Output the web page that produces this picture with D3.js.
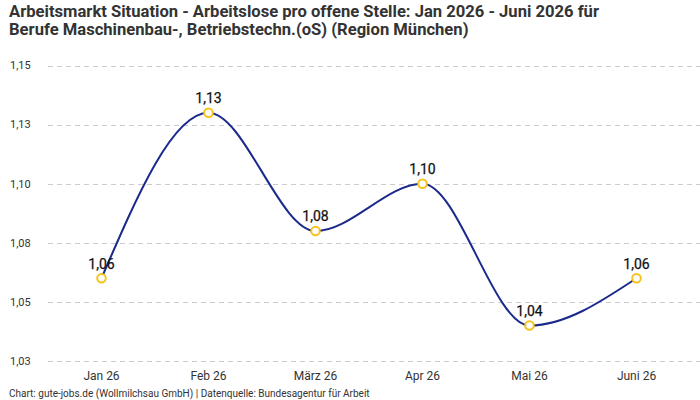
<!DOCTYPE html>
<html>
<head>
<meta charset="utf-8">
<script src="https://cdn.jsdelivr.net/npm/d3@7"></script>
<style>
  body { margin: 0; background: #fff; }
  svg { display: block; }
  .title { font-family: "Liberation Sans Narrow", "Roboto", sans-serif; font-weight: bold; font-size: 16.6px; fill: #333; }
  .tick-y { font-family: "Roboto", sans-serif; font-size: 11px; fill: #333; }
  .tick-x { font-family: "Liberation Sans Narrow", "Roboto", sans-serif; font-size: 12px; fill: #333; }
  .value-label { font-family: "Roboto", sans-serif; font-size: 14px; fill: #111; stroke: #111; stroke-width: 0.25px; }
  .footer { font-family: "Liberation Sans Narrow", "Roboto", sans-serif; font-size: 10px; fill: #333; }
</style>
</head>
<body>
<svg id="chart" width="700" height="400"></svg>
<script>
// data
var months = ["Jan 26", "Feb 26", "März 26", "Apr 26", "Mai 26", "Juni 26"];
var values = [1.06, 1.13, 1.08, 1.10, 1.04, 1.06];
var yTicks = [1.025, 1.05, 1.075, 1.10, 1.125, 1.15];
var titleLines = [
	"Arbeitsmarkt Situation - Arbeitslose pro offene Stelle: Jan 2026 - Juni 2026 für",
	"Berufe Maschinenbau-, Betriebstechn.(oS) (Region München)"
];
var footerText = "Chart: gute-jobs.de (Wollmilchsau GmbH) | Datenquelle: Bundesagentur für Arbeit";

window.addEventListener("load", function () {
	var svg = d3.select("#chart");

	// german number format, round with a little epsilon so 1.025 -> 1,03
	var fmt = function(v) {
		var r = Math.round(v * 100 + 1e-7) / 100;
		return r.toFixed(2).replace(".", ",");
	};

	var x = d3.scalePoint()
		.domain(months)
		.range([48, 690])
		.padding(0.5);

	var y = d3.scaleLinear()
		.domain([1.025, 1.15])
		.range([361, 65.5]);

	// title
	svg.append("g").selectAll("text")
		.data(titleLines)
		.enter().append("text")
		.attr("class", "title")
		.attr("x", 9)
		.attr("y", function(d, i) { return 17 + i * 18; })
		.text(function(d) { return d; });

	// grid lines + y labels
	var grid = svg.append("g");
	grid.selectAll("line")
		.data(yTicks)
		.enter().append("line")
		.attr("x1", 48)
		.attr("x2", 700)
		.attr("y1", function(d) { return Math.round(y(d)) + 0.5; })
		.attr("y2", function(d) { return Math.round(y(d)) + 0.5; })
		.attr("stroke", "#cccccc")
		.attr("stroke-width", 1)
		.attr("stroke-dasharray", "5,4");
	grid.selectAll("text")
		.data(yTicks)
		.enter().append("text")
		.attr("class", "tick-y")
		.attr("x", 10)
		.attr("y", function(d) { return y(d); })
		.attr("dy", "0.35em")
		.text(fmt);

	// x labels
	svg.append("g").selectAll("text")
		.data(months)
		.enter().append("text")
		.attr("class", "tick-x")
		.attr("x", function(d) { return x(d); })
		.attr("y", 380)
		.attr("text-anchor", "middle")
		.text(function(d) { return d; });

	// the line
	var line = d3.line()
		.x(function(d, i) { return x(months[i]); })
		.y(function(d) { return y(d); })
		.curve(d3.curveMonotoneX);

	svg.append("path")
		.datum(values)
		.attr("d", line)
		.attr("fill", "none")
		.attr("stroke", "#1b2a8c")
		.attr("stroke-width", 2);

	// points
	svg.append("g").selectAll("circle")
		.data(values)
		.enter().append("circle")
		.attr("cx", function(d, i) { return x(months[i]); })
		.attr("cy", function(d) { return y(d); })
		.attr("r", 4.3)
		.attr("fill", "#fff")
		.attr("stroke", "#f7c21c")
		.attr("stroke-width", 2);

	// value labels
	svg.append("g").selectAll("text")
		.data(values)
		.enter().append("text")
		.attr("class", "value-label")
		.attr("x", function(d, i) { return x(months[i]); })
		.attr("y", function(d) { return y(d) - 9.5; })
		.attr("text-anchor", "middle")
		.text(fmt);

	// footer
	svg.append("text")
		.attr("class", "footer")
		.attr("x", 9)
		.attr("y", 397)
		.text(footerText);
});
</script>
</body>
</html>
